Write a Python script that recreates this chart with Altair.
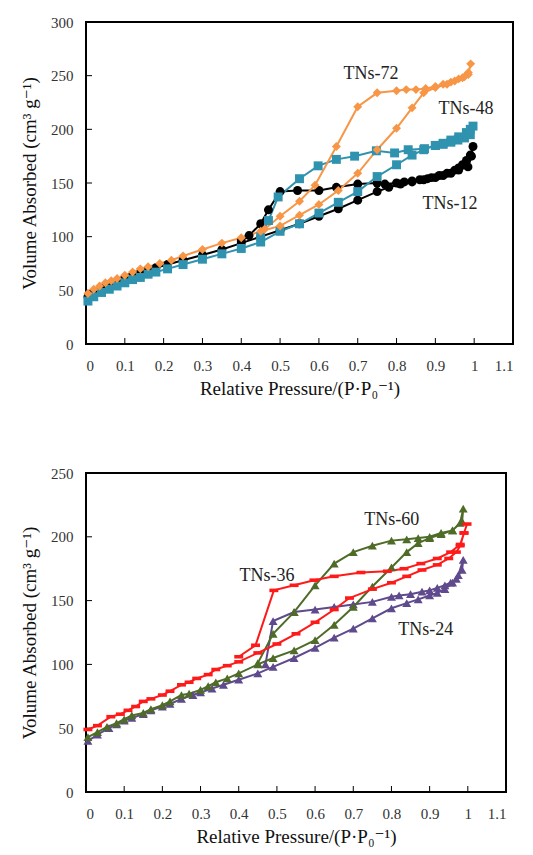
import altair as alt
import pandas as pd

# ---------------- data ----------------
# Top panel
tn12_ads_x = [0.005,0.02,0.04,0.06,0.08,0.10,0.12,0.14,0.16,0.18,0.21,0.25,0.30,0.35,0.40,0.45,0.50,0.55,0.60,0.65,0.70,0.75,0.78,0.81,0.84,0.87,0.89,0.91,0.93,0.95,0.96,0.97,0.98,0.99,0.997]
tn12_ads_y = [44,48,52,55,58,61,64,66,69,71,74,78,83,88,94,100,106,112,119,126,134,142,146,149,151,153,155,157,159,162,164,167,171,176,184]
tn12_des_x = [0.993,0.984,0.96,0.94,0.92,0.90,0.88,0.86,0.84,0.82,0.80,0.77,0.75,0.70,0.645,0.60,0.545,0.50,0.47,0.45,0.42,0.40]
tn12_des_y = [175,165,162,159,157,155,154,153,152,151,150,149,150,149,146,143,143,142,125,112,101,96]

tn48_ads_x = [0.005,0.02,0.04,0.06,0.08,0.10,0.12,0.14,0.16,0.18,0.21,0.25,0.30,0.35,0.40,0.45,0.50,0.55,0.60,0.65,0.70,0.75,0.80,0.84,0.87,0.90,0.92,0.94,0.96,0.98,0.99,0.997]
tn48_ads_y = [40,44,48,51,54,57,60,62,65,67,70,74,79,84,89,95,105,112,122,132,142,156,167,176,181,185,187,190,193,197,200,203]
tn48_des_x = [0.99,0.975,0.958,0.94,0.92,0.90,0.872,0.83,0.795,0.748,0.692,0.645,0.598,0.55,0.495,0.47,0.45]
tn48_des_y = [195,192,190,188,186,185,182,181,178,180,175,172,166,154,137,115,100]

tn72_ads_x = [0.005,0.02,0.035,0.05,0.065,0.08,0.10,0.12,0.14,0.16,0.19,0.22,0.25,0.30,0.35,0.40,0.45,0.50,0.55,0.60,0.65,0.70,0.75,0.80,0.84,0.87,0.90,0.93,0.95,0.97,0.985,0.991]
tn72_ads_y = [47,51,54,57,59,61,64,67,70,72,75,78,82,88,94,99,105,110,120,130,143,159,181,201,220,234,239,242,245,248,251,261]
tn72_des_x = [0.985,0.975,0.96,0.94,0.92,0.90,0.875,0.85,0.825,0.80,0.75,0.70,0.645,0.59,0.55,0.50,0.46]
tn72_des_y = [253,249,247,244,242,240,238,237,237,236,234,221,184,148,133,119,107]

# Bottom panel
tn24_ads_x = [0.005,0.03,0.06,0.08,0.10,0.12,0.15,0.17,0.20,0.22,0.25,0.28,0.30,0.33,0.36,0.40,0.45,0.49,0.545,0.60,0.65,0.70,0.75,0.80,0.84,0.87,0.90,0.92,0.94,0.96,0.975,0.988]
tn24_ads_y = [40,45,50,53,56,58,61,64,67,69,73,76,78,81,84,88,93,98,105,113,121,128,136,144,148,151,154,156,159,164,170,182]
tn24_des_x = [0.985,0.97,0.955,0.94,0.92,0.90,0.88,0.85,0.82,0.80,0.75,0.70,0.65,0.60,0.545,0.49,0.47]
tn24_des_y = [174,167,164,162,160,158,157,155,154,153,149,147,145,143,141,134,100]

tn36_ads_x = [0.005,0.03,0.065,0.09,0.11,0.13,0.15,0.17,0.20,0.22,0.25,0.27,0.29,0.32,0.34,0.37,0.40,0.45,0.50,0.55,0.60,0.65,0.69,0.75,0.80,0.84,0.88,0.92,0.95,0.97,0.98,0.99]
tn36_ads_y = [49,52,59,61,64,67,71,73,76,79,84,86,89,92,96,99,102,109,116,124,133,143,152,159,164,169,174,178,183,188,193,203]
tn36_des_x = [0.998,0.99,0.98,0.955,0.92,0.877,0.833,0.789,0.72,0.65,0.597,0.545,0.492,0.444,0.40]
tn36_des_y = [210,203,194,188,183,179,175,173,172,169,166,162,158,115,106]

tn60_ads_x = [0.005,0.03,0.055,0.08,0.10,0.12,0.15,0.17,0.20,0.22,0.25,0.27,0.30,0.32,0.34,0.37,0.40,0.45,0.49,0.545,0.60,0.65,0.70,0.75,0.80,0.84,0.87,0.90,0.93,0.96,0.98,0.988]
tn60_ads_y = [43,47,51,54,57,60,62,65,68,71,76,77,80,83,86,89,93,100,105,111,119,131,145,161,176,188,195,199,202,205,211,222]
tn60_des_x = [0.985,0.96,0.93,0.90,0.87,0.84,0.80,0.75,0.70,0.65,0.60,0.545,0.49,0.45]
tn60_des_y = [212,205,203,200,199,198,197,193,188,179,162,141,124,101]

all_series = ["TNs-12", "TNs-48", "TNs-72", "TNs-24", "TNs-60", "TNs-36"]
all_colors = ["#000000", "#2F93AF", "#F79646", "#5E4A8C", "#4F6B28", "#FF1A1A"]
all_shapes = ["circle", "square", "diamond", "triangle-up", "triangle-up", "M-1,-0.4H1V0.4H-1Z"]

top_label_text = ["TNs-72", "TNs-48", "TNs-12"]
top_label_x = [0.734, 0.979, 0.938]
top_label_y = [252, 219, 130]
bot_label_text = ["TNs-60", "TNs-36", "TNs-24"]
bot_label_x = [0.801, 0.474, 0.89]
bot_label_y = [213, 169, 127]

x_ticks = [0, 0.1, 0.2, 0.3, 0.4, 0.5, 0.6, 0.7, 0.8, 0.9, 1.0, 1.1]
x_inner_ticks = [0.1, 0.2, 0.3, 0.4, 0.5, 0.6, 0.7, 0.8, 0.9, 1.0]
top_y_ticks = [0, 50, 100, 150, 200, 250, 300]
bot_y_ticks = [0, 50, 100, 150, 200, 250]

# ---------------- build tables ----------------
def series_rows(name, ax, ay, dx, dy):
    rows = []
    i = 0
    for x, y in zip(ax, ay):
        rows.append({"series": name, "p": x, "v": y, "ord": i}); i += 1
    for x, y in zip(dx, dy):
        rows.append({"series": name, "p": x, "v": y, "ord": i}); i += 1
    return rows

top_df = pd.DataFrame(
    series_rows("TNs-12", tn12_ads_x, tn12_ads_y, tn12_des_x, tn12_des_y)
    + series_rows("TNs-48", tn48_ads_x, tn48_ads_y, tn48_des_x, tn48_des_y)
    + series_rows("TNs-72", tn72_ads_x, tn72_ads_y, tn72_des_x, tn72_des_y)
)
bot_df = pd.DataFrame(
    series_rows("TNs-24", tn24_ads_x, tn24_ads_y, tn24_des_x, tn24_des_y)
    + series_rows("TNs-60", tn60_ads_x, tn60_ads_y, tn60_des_x, tn60_des_y)
    + series_rows("TNs-36", tn36_ads_x, tn36_ads_y, tn36_des_x, tn36_des_y)
)

FONT = "'Liberation Serif', 'Times New Roman', 'DejaVu Serif', serif"
XTITLE = "Relative Pressure/(P·P₀⁻¹)"
YTITLE = "Volume Absorbed (cm³ g⁻¹)"


def panel(df, ymax, yticks, lab_t, lab_x, lab_y, w, h):
    xs = alt.Scale(domain=[0, 1.1], nice=False, zero=False)
    ys = alt.Scale(domain=[0, ymax], nice=False)
    common = dict(grid=False, ticks=False, domain=False,
                  labelFont=FONT, labelFontSize=15, labelColor="#333333",
                  titleFont=FONT, titleFontSize=19, titleFontWeight="normal", titleColor="#111111")
    xaxis = alt.Axis(values=x_ticks, format="~g", title=XTITLE,
                     labelPadding=14, titlePadding=6, **common)
    yaxis = alt.Axis(values=yticks, title=YTITLE,
                     labelPadding=13, titlePadding=11, **common)
    color = alt.Color("series:N", scale=alt.Scale(domain=all_series, range=all_colors), legend=None)
    shape = alt.Shape("series:N", scale=alt.Scale(domain=all_series, range=all_shapes), legend=None)

    base = alt.Chart(df)
    lines = base.mark_line(strokeWidth=2).encode(
        x=alt.X("p:Q", scale=xs, axis=xaxis),
        y=alt.Y("v:Q", scale=ys, axis=yaxis),
        color=color,
        detail="series:N",
        order="ord:Q",
    )
    pts = base.mark_point(filled=True, opacity=1, size=80).encode(
        x=alt.X("p:Q", scale=xs, axis=xaxis),
        y=alt.Y("v:Q", scale=ys, axis=yaxis),
        color=color,
        shape=shape,
    )
    lab_df = pd.DataFrame({"t": lab_t, "lx": lab_x, "ly": lab_y})
    labels = alt.Chart(lab_df).mark_text(font=FONT, fontSize=18, color="#222222").encode(
        x=alt.X("lx:Q", scale=xs, axis=xaxis),
        y=alt.Y("ly:Q", scale=ys, axis=yaxis),
        text="t:N",
    )
    xt = alt.Chart(pd.DataFrame({"t": x_inner_ticks})).mark_rule(color="#000000", strokeWidth=1).encode(
        x=alt.X("t:Q", scale=xs, axis=xaxis),
        y=alt.value(h),
        y2=alt.value(h - 6),
    )
    yt = alt.Chart(pd.DataFrame({"t": yticks[1:-1]})).mark_rule(color="#000000", strokeWidth=1).encode(
        y=alt.Y("t:Q", scale=ys, axis=yaxis),
        x=alt.value(0),
        x2=alt.value(6),
    )
    return alt.layer(xt, yt, lines, pts, labels).properties(width=w, height=h)


top = panel(top_df, 300, top_y_ticks, top_label_text, top_label_x, top_label_y, 427, 322)
bot = panel(bot_df, 250, bot_y_ticks, bot_label_text, bot_label_x, bot_label_y, 420, 319)

chart = alt.vconcat(top, bot, spacing=66).properties(
    padding={"left": 19, "top": 14, "right": 5, "bottom": 5},
    background="white",
).configure_view(
    stroke="#000000", strokeWidth=2
).configure_axis(
    labelFont=FONT, labelFontSize=15, labelColor="#333333",
    titleFont=FONT, titleFontSize=19, titleFontWeight="normal", titleColor="#111111",
)

chart.save("out.html", embed_options={"renderer": "svg", "actions": False})
